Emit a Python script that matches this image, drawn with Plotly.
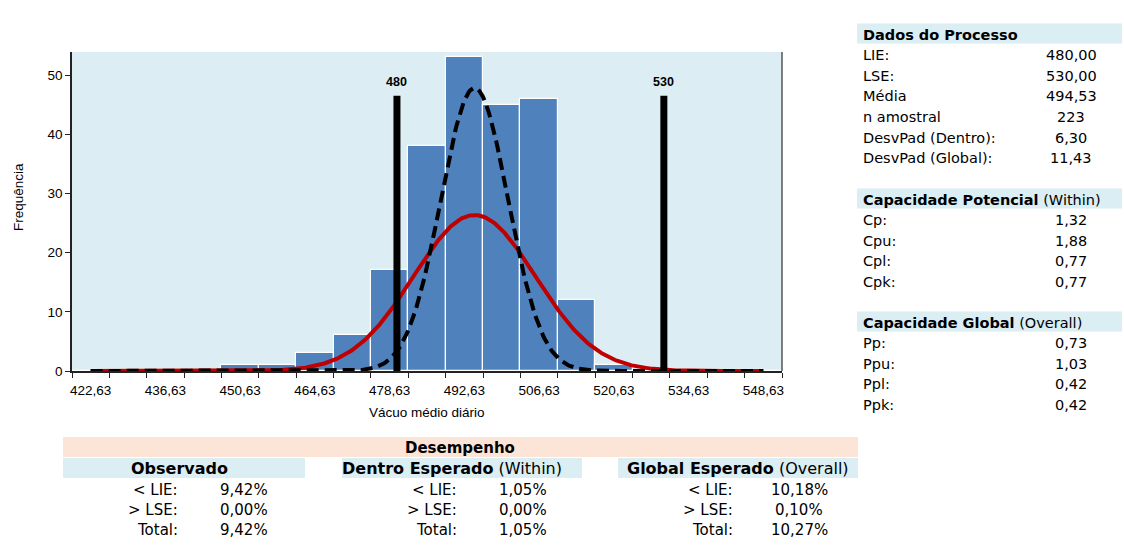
import numpy as np
import plotly.graph_objects as go

# ---- histogram data -------------------------------------------------------
bin_centers = [422.63, 429.63, 436.63, 443.63, 450.63, 457.63, 464.63, 471.63,
               478.63, 485.63, 492.63, 499.63, 506.63, 513.63, 520.63, 527.63,
               534.63, 541.63, 548.63]
counts = [0, 0, 0, 0, 1, 1, 3, 6, 17, 38, 53, 45, 46, 12, 1, 0, 0, 0, 0]
bin_width = 7.0

tick_values = [422.63, 436.63, 450.63, 464.63, 478.63, 492.63, 506.63, 520.63, 534.63, 548.63]
tick_labels = ["422,63", "436,63", "450,63", "464,63", "478,63", "492,63",
               "506,63", "520,63", "534,63", "548,63"]
bin_edges = [419.13, 426.13, 433.13, 440.13, 447.13, 454.13, 461.13, 468.13, 475.13,
             482.13, 489.13, 496.13, 503.13, 510.13, 517.13, 524.13, 531.13, 538.13,
             545.13, 552.13]

# ---- process parameters ----------------------------------------------------
lie, lse = 480.0, 530.0
mean = 494.53
n_samples = 223
sd_within = 6.30
sd_overall = 11.43
curve_area = 755.0          # area under the fitted curves (frequency units)
spec_line_height = 46.5

panel_sections = [
    ("<b>Dados do Processo</b>",
     [("LIE:", "480,00"), ("LSE:", "530,00"), ("Média", "494,53"), ("n amostral", "223"),
      ("DesvPad (Dentro):", "6,30"), ("DesvPad (Global):", "11,43")]),
    ("<b>Capacidade Potencial</b> (Within)",
     [("Cp:", "1,32"), ("Cpu:", "1,88"), ("Cpl:", "0,77"), ("Cpk:", "0,77")]),
    ("<b>Capacidade Global</b> (Overall)",
     [("Pp:", "0,73"), ("Ppu:", "1,03"), ("Ppl:", "0,42"), ("Ppk:", "0,42")]),
]

perf_groups = [
    ("<b>Observado</b>", ["9,42%", "0,00%", "9,42%"]),
    ("<b>Dentro Esperado</b> (Within)", ["1,05%", "0,00%", "1,05%"]),
    ("<b>Global Esperado</b> (Overall)", ["10,18%", "0,10%", "10,27%"]),
]
perf_rows = ["< LIE:", "> LSE:", "Total:"]

# ---- layout geometry (pixels) ---------------------------------------------
W, H = 1124, 556
PL, PR, PT, PB = 72, 782, 52, 371


def px_x(px):
    return (px - PL) / (PR - PL)


def px_y(py):
    return (PB - py) / (PB - PT)


CHART_FONT = "Liberation Sans, Arial, sans-serif"
TABLE_FONT = "DejaVu Sans, Verdana, sans-serif"
PLOT_BG = "#DCEEF4"
BLUE_BAND = "#DAEEF3"
PEACH_BAND = "#FCE4D6"
TEXT = "#000"

# ---- fitted normal curves --------------------------------------------------
xs = np.linspace(bin_centers[0], bin_centers[-1], 600)


def normal_curve(sd):
    return curve_area / (sd * np.sqrt(2 * np.pi)) * np.exp(-0.5 * ((xs - mean) / sd) ** 2)


fig = go.Figure()
fig.add_trace(go.Bar(
    x=bin_centers, y=counts, width=bin_width,
    marker=dict(color="#4F81BD", line=dict(color="white", width=1.2)),
    hoverinfo="x+y",
))
fig.add_trace(go.Scatter(x=xs, y=normal_curve(sd_overall), mode="lines",
                         line=dict(color="#C00000", width=4)))
fig.add_trace(go.Scatter(x=xs, y=normal_curve(sd_within), mode="lines",
                         line=dict(color="black", width=4, dash="12px,6px")))
for spec in (lie, lse):
    fig.add_trace(go.Scatter(x=[spec, spec], y=[0, spec_line_height], mode="lines",
                             line=dict(color="black", width=7)))

annotations = []


def label(px, py, text, size, anchor="center", family=TABLE_FONT, **kw):
    annotations.append(dict(x=px_x(px), y=px_y(py), xref="paper", yref="paper",
                            text=text, showarrow=False, xanchor=anchor, yanchor="middle",
                            font=dict(family=family, size=size, color=TEXT), **kw))


for spec in (lie, lse):
    annotations.append(dict(x=spec, y=spec_line_height, xref="x", yref="y",
                            text="<b>%d</b>" % spec, showarrow=False, yshift=14,
                            xanchor="center", yanchor="middle",
                            font=dict(family=CHART_FONT, size=12.5, color=TEXT)))

# axis titles
label(18, 197, "Frequência", 13.5, family=CHART_FONT, textangle=-90)
label(427, 412, "Vácuo médio diário", 13.5, family=CHART_FONT)

shapes = []
# right border of the plot area
shapes.append(dict(type="line", xref="paper", yref="paper", x0=1, x1=1, y0=0, y1=1,
                   line=dict(color="#555", width=1.5)))

# ---- side panel -------------------------------------------------------------
header_tops = [23.5, 188.5, 311.5]
row_gap = 20.6
for (title, rows), top in zip(panel_sections, header_tops):
    shapes.append(dict(type="rect", xref="paper", yref="paper",
                       x0=px_x(857), x1=px_x(1122), y0=px_y(top + 20), y1=px_y(top),
                       fillcolor=BLUE_BAND, line=dict(width=0), layer="below"))
    label(861, top + 11, title, 14.5, anchor="left")
    for i, (lab, val) in enumerate(rows):
        yy = top + 11 + row_gap * (i + 1)
        label(861, yy, lab, 14.5, anchor="left")
        label(1071, yy, val, 14.5)

# ---- performance table ----------------------------------------------------
shapes.append(dict(type="rect", xref="paper", yref="paper",
                   x0=px_x(63), x1=px_x(858), y0=px_y(457), y1=px_y(437),
                   fillcolor=PEACH_BAND, line=dict(width=0), layer="below"))
label(460, 448, "<b>Desempenho</b>", 15)
band_x = [(63, 305), (342, 582), (618, 858)]
title_cx = [179, 452, 738]
row_y = [490, 510, 530]
for (title, vals), (bx0, bx1), tcx in zip(perf_groups, band_x, title_cx):
    shapes.append(dict(type="rect", xref="paper", yref="paper",
                       x0=px_x(bx0), x1=px_x(bx1), y0=px_y(478), y1=px_y(458),
                       fillcolor=BLUE_BAND, line=dict(width=0), layer="below"))
    label(tcx, 468, title, 16)
    for lab, val, yy in zip(perf_rows, vals, row_y):
        label(bx0 + 117, yy, lab, 15, anchor="right")
        label(bx0 + 181, yy, val, 15)

fig.update_layout(
    width=W, height=H,
    margin=dict(l=PL, r=W - PR, t=PT, b=H - PB, pad=0),
    paper_bgcolor="white", plot_bgcolor=PLOT_BG,
    showlegend=False, bargap=0,
    shapes=shapes, annotations=annotations,
    xaxis=dict(
        range=[bin_edges[0], bin_edges[-1]],
        tickmode="array", tickvals=tick_values, ticktext=tick_labels,
        ticks="outside", ticklen=6, tickcolor="rgba(0,0,0,0)",
        minor=dict(tickmode="array", tickvals=bin_edges, ticks="outside",
                   ticklen=5, tickcolor="#222", tickwidth=1.2),
        showline=True, linecolor="#222", linewidth=1.5,
        showgrid=False, zeroline=False,
        tickfont=dict(family=CHART_FONT, size=13.5, color=TEXT),
    ),
    yaxis=dict(
        range=[0, 53.9],
        tickmode="array", tickvals=[0, 10, 20, 30, 40, 50],
        ticks="outside", ticklen=5, tickcolor="#222", tickwidth=1.2,
        showline=True, linecolor="#222", linewidth=1.5,
        showgrid=False, zeroline=False,
        tickfont=dict(family=CHART_FONT, size=13.5, color=TEXT),
    ),
)

fig.write_html("out.html")
